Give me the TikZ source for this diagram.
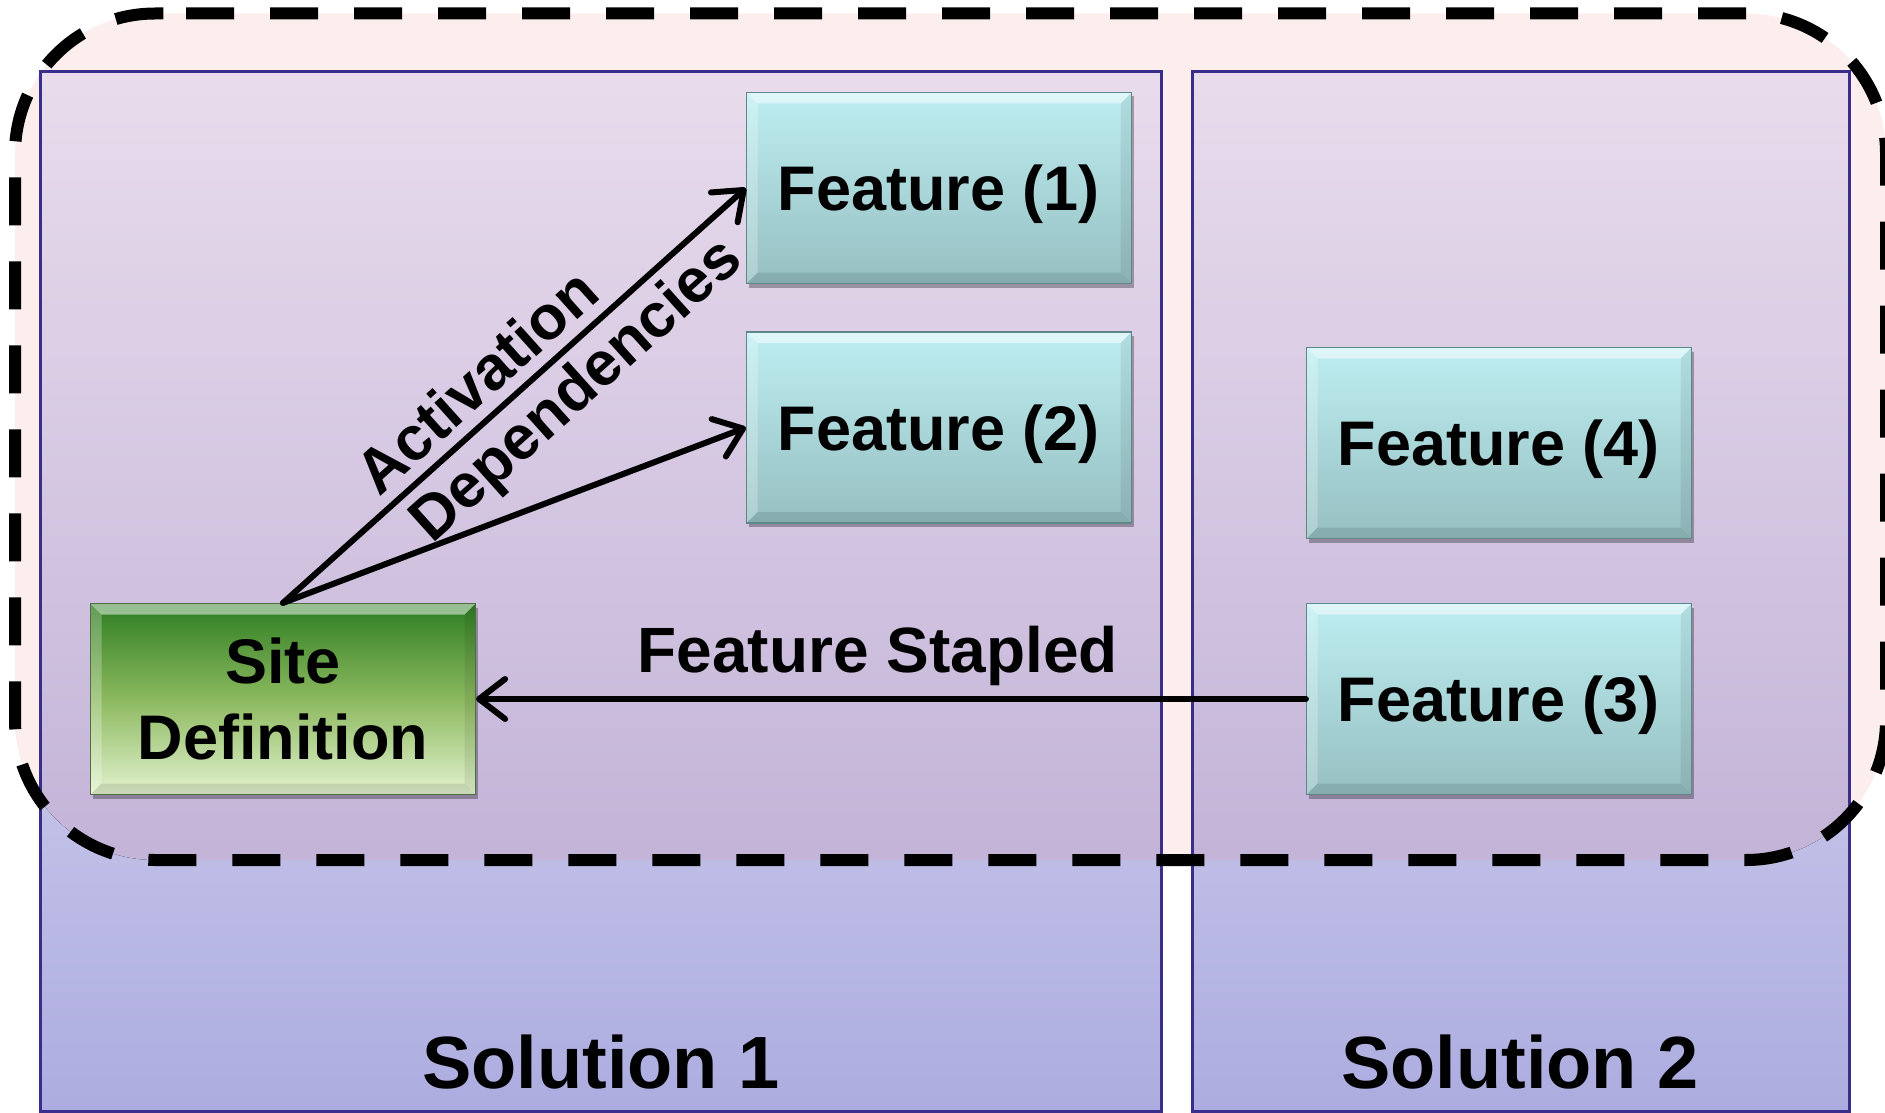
\documentclass[tikz,border=0pt]{standalone}
\usepackage{fontspec}
\setmainfont{Liberation Sans}
\usetikzlibrary{arrows.meta,shadows}

\definecolor{regionpink}{RGB}{253,238,238}
\definecolor{solborder}{RGB}{58,46,140}
\definecolor{soltopin}{RGB}{232,220,236}
\definecolor{solbotin}{RGB}{195,180,216}
\definecolor{soltopout}{RGB}{246,242,249}
\definecolor{solbotout}{RGB}{172,172,224}
\definecolor{feattop}{RGB}{190,238,242}
\definecolor{featbot}{RGB}{150,191,193}
\definecolor{featedge}{RGB}{95,135,138}
\definecolor{sitetop}{RGB}{46,125,34}
\definecolor{sitemid}{RGB}{140,185,95}
\definecolor{sitebot}{RGB}{226,242,206}
\definecolor{siteedge}{RGB}{80,110,70}

\tikzset{
  % bevelled faces inside a box
  bevel/.style={path picture={
    \coordinate (pnw) at (path picture bounding box.north west);
    \coordinate (pne) at (path picture bounding box.north east);
    \coordinate (psw) at (path picture bounding box.south west);
    \coordinate (pse) at (path picture bounding box.south east);
    \fill[white,opacity=0.5] (pnw) -- (pne) -- ([shift={(-11pt,-11pt)}]pne) -- ([shift={(11pt,-11pt)}]pnw) -- cycle;
    \fill[white,opacity=0.25] (pnw) -- ([shift={(11pt,-11pt)}]pnw) -- ([shift={(11pt,11pt)}]psw) -- (psw) -- cycle;
    \fill[black,opacity=0.07] (pne) -- (pse) -- ([shift={(-11pt,11pt)}]pse) -- ([shift={(-11pt,-11pt)}]pne) -- cycle;
    \fill[black,opacity=0.10] (psw) -- ([shift={(11pt,11pt)}]psw) -- ([shift={(-11pt,11pt)}]pse) -- (pse) -- cycle;
  }},
  boxbase/.style={line width=1.2pt,
    minimum width=385pt, minimum height=191pt, inner sep=0pt,
    font=\fontsize{63pt}{76pt}\selectfont\bfseries, bevel,
    drop shadow={shadow xshift=2pt, shadow yshift=-4pt, opacity=0.3, fill=black}},
  featbox/.style={boxbase, draw=featedge, top color=feattop, bottom color=featbot,
    text height=45pt, text depth=0pt},
  sitebox/.style={boxbase, draw=siteedge,
    top color=sitetop, bottom color=sitebot, middle color=sitemid, align=center},
  link/.style={line width=6pt, line cap=round,
    -{Straight Barb[length=26pt,width=40pt,round]}},
  diaglab/.style={font=\fontsize{62pt}{74pt}\selectfont\bfseries, sloped, inner xsep=0pt},
  sollab/.style={font=\fontsize{74pt}{88pt}\selectfont\bfseries, anchor=base, inner sep=0pt},
  stapllab/.style={font=\fontsize{64pt}{76pt}\selectfont\bfseries, inner sep=0pt},
}

\begin{document}
\begin{tikzpicture}[x=1pt,y=-1pt]
\useasboundingbox (0,0) rectangle (1885,1113);

% shared scope region behind the solutions
\fill[regionpink, rounded corners=140pt] (15,13.5) rectangle (1886,860);

% solution panels
\fill[top color=soltopout, bottom color=solbotout] (40,72) rectangle (1161,1111.5);
\fill[top color=soltopout, bottom color=solbotout] (1192,72) rectangle (1849,1111.5);
\begin{scope}
  \clip[rounded corners=140pt] (15,13.5) rectangle (1886,860);
  \fill[top color=soltopin, bottom color=solbotin] (40,72) rectangle (1161,860);
  \fill[top color=soltopin, bottom color=solbotin] (1192,72) rectangle (1849,860);
\end{scope}
\draw[solborder, line width=3pt] (40,72) rectangle (1161,1111.5);
\draw[solborder, line width=3pt] (1192,72) rectangle (1849,1111.5);

\node[sollab] (sol1) at (601,1088) {Solution 1};
\node[sollab] (sol2) at (1520,1088) {Solution 2};

% features and site definition
\node[featbox] (f1) at (939,188) {Feature (1)};
\node[featbox] (f2) at (939,427.5) {Feature (2)};
\node[featbox] (f4) at (1499,443) {Feature (4)};
\node[featbox] (f3) at (1499,699) {Feature (3)};
\node[sitebox] (site) at (283,699) {Site\\Definition};

% connectors
\draw[link] (site.north) --
  node[diaglab, above, pos=0.47, inner ysep=11pt] (actlab) {Activation}
  node[diaglab, below, pos=0.58, inner ysep=8pt] (deplab) {Dependencies}
  (f1.west);
\draw[link] (site.north) -- (f2.west);
\draw[link] (f3.west) --
  node[stapllab, above=10pt, pos=0.516] (staplab) {Feature Stapled}
  (site.east);

% dashed outline of the shared region
\draw[black, line width=12pt, dash pattern=on 48pt off 36pt, rounded corners=140pt]
  (186,13.5) -- (1886,13.5) -- (1886,860) -- (15,860) -- (15,13.5) -- (188,13.5);
\end{tikzpicture}
\end{document}
